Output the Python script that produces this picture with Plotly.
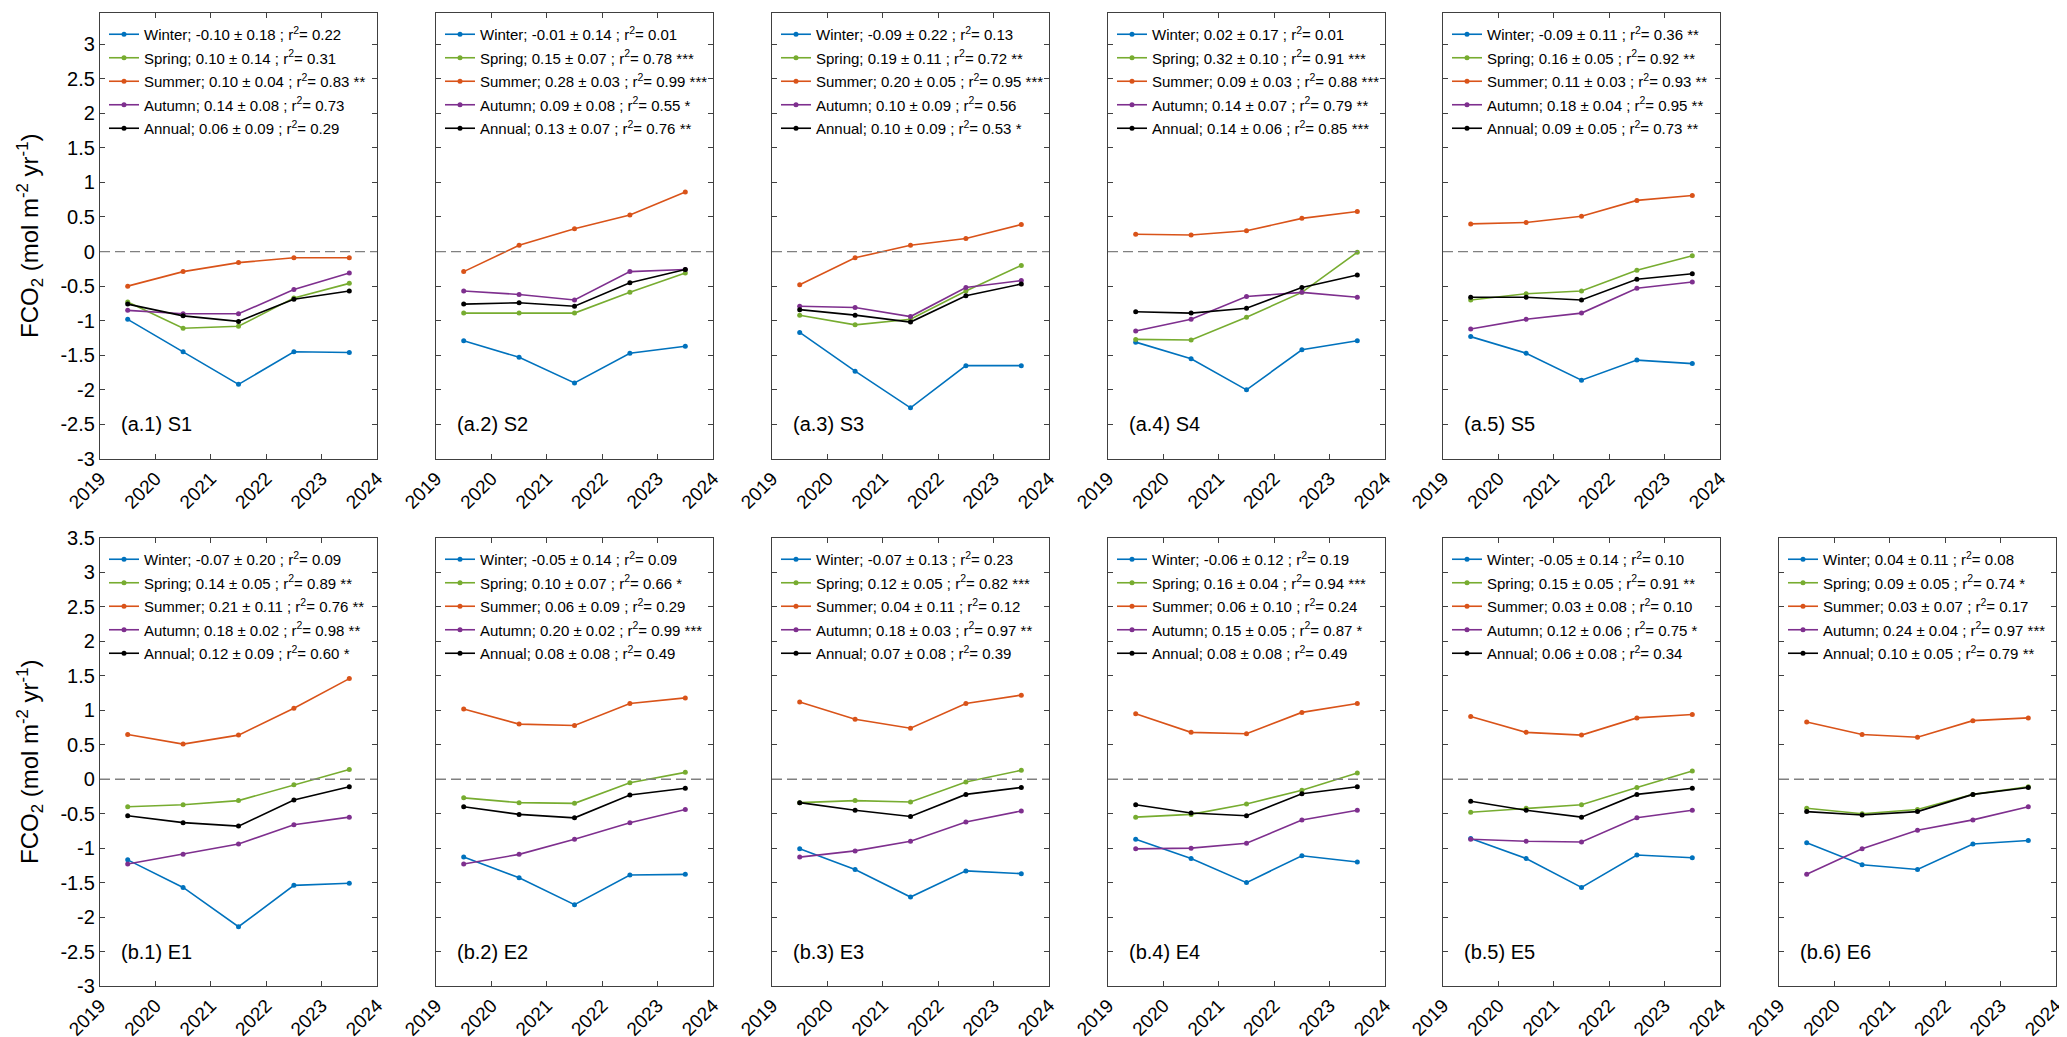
import plotly.graph_objects as go
from plotly.subplots import make_subplots

# Mid-year positions of the five yearly values
YEARS = [2019.5, 2020.5, 2021.5, 2022.5, 2023.5]

PANELS = ["(a.1) S1", "(a.2) S2", "(a.3) S3", "(a.4) S4", "(a.5) S5",
          "(b.1) E1", "(b.2) E2", "(b.3) E3", "(b.4) E4", "(b.5) E5", "(b.6) E6"]

SEASONS = ["Winter", "Spring", "Summer", "Autumn", "Annual"]

# FCO2 values per panel (rows follow PANELS)
WINTER = [
    [-0.98, -1.45, -1.92, -1.45, -1.46],
    [-1.29, -1.53, -1.90, -1.47, -1.37],
    [-1.17, -1.73, -2.26, -1.65, -1.65],
    [-1.31, -1.55, -2.00, -1.42, -1.29],
    [-1.23, -1.47, -1.86, -1.57, -1.62],
    [-1.17, -1.57, -2.14, -1.54, -1.51],
    [-1.13, -1.43, -1.82, -1.39, -1.38],
    [-1.01, -1.31, -1.71, -1.33, -1.37],
    [-0.87, -1.15, -1.50, -1.11, -1.20],
    [-0.86, -1.15, -1.57, -1.10, -1.14],
    [-0.92, -1.24, -1.31, -0.94, -0.89],
]
SPRING = [
    [-0.73, -1.11, -1.08, -0.67, -0.46],
    [-0.89, -0.89, -0.89, -0.59, -0.31],
    [-0.92, -1.06, -0.98, -0.57, -0.20],
    [-1.27, -1.28, -0.95, -0.59, -0.01],
    [-0.70, -0.61, -0.57, -0.27, -0.06],
    [-0.40, -0.37, -0.31, -0.08, 0.14],
    [-0.27, -0.34, -0.35, -0.05, 0.10],
    [-0.34, -0.31, -0.33, -0.04, 0.13],
    [-0.55, -0.51, -0.36, -0.16, 0.09],
    [-0.48, -0.42, -0.37, -0.12, 0.12],
    [-0.42, -0.50, -0.44, -0.22, -0.11],
]
SUMMER = [
    [-0.50, -0.29, -0.16, -0.09, -0.09],
    [-0.29, 0.09, 0.33, 0.53, 0.86],
    [-0.48, -0.09, 0.09, 0.19, 0.39],
    [0.25, 0.24, 0.30, 0.48, 0.58],
    [0.40, 0.42, 0.51, 0.74, 0.81],
    [0.65, 0.51, 0.64, 1.03, 1.46],
    [1.02, 0.80, 0.78, 1.10, 1.18],
    [1.12, 0.87, 0.74, 1.10, 1.22],
    [0.95, 0.68, 0.66, 0.97, 1.10],
    [0.91, 0.68, 0.64, 0.89, 0.94],
    [0.83, 0.65, 0.61, 0.85, 0.89],
]
AUTUMN = [
    [-0.85, -0.90, -0.90, -0.55, -0.31],
    [-0.57, -0.62, -0.70, -0.29, -0.26],
    [-0.79, -0.81, -0.94, -0.52, -0.42],
    [-1.15, -0.98, -0.65, -0.59, -0.66],
    [-1.12, -0.98, -0.89, -0.53, -0.44],
    [-1.23, -1.09, -0.94, -0.66, -0.55],
    [-1.23, -1.09, -0.87, -0.63, -0.44],
    [-1.13, -1.04, -0.90, -0.62, -0.46],
    [-1.01, -1.00, -0.93, -0.59, -0.45],
    [-0.87, -0.90, -0.91, -0.56, -0.45],
    [-1.38, -1.01, -0.74, -0.59, -0.40],
]
ANNUAL = [
    [-0.76, -0.93, -1.01, -0.69, -0.57],
    [-0.76, -0.74, -0.79, -0.45, -0.26],
    [-0.84, -0.92, -1.02, -0.64, -0.47],
    [-0.87, -0.89, -0.82, -0.52, -0.34],
    [-0.66, -0.66, -0.70, -0.40, -0.32],
    [-0.53, -0.63, -0.68, -0.30, -0.11],
    [-0.40, -0.51, -0.56, -0.23, -0.13],
    [-0.34, -0.45, -0.54, -0.22, -0.12],
    [-0.37, -0.49, -0.53, -0.21, -0.11],
    [-0.32, -0.45, -0.55, -0.22, -0.13],
    [-0.47, -0.52, -0.47, -0.22, -0.12],
]

# Trend statistics shown in legends: (slope, sd, r2, significance)
WINTER_FIT = [("-0.10", "0.18", "0.22", ""), ("-0.01", "0.14", "0.01", ""),
              ("-0.09", "0.22", "0.13", ""), ("0.02", "0.17", "0.01", ""),
              ("-0.09", "0.11", "0.36", "**"), ("-0.07", "0.20", "0.09", ""),
              ("-0.05", "0.14", "0.09", ""), ("-0.07", "0.13", "0.23", ""),
              ("-0.06", "0.12", "0.19", ""), ("-0.05", "0.14", "0.10", ""),
              ("0.04", "0.11", "0.08", "")]
SPRING_FIT = [("0.10", "0.14", "0.31", ""), ("0.15", "0.07", "0.78", "***"),
              ("0.19", "0.11", "0.72", "**"), ("0.32", "0.10", "0.91", "***"),
              ("0.16", "0.05", "0.92", "**"), ("0.14", "0.05", "0.89", "**"),
              ("0.10", "0.07", "0.66", "*"), ("0.12", "0.05", "0.82", "***"),
              ("0.16", "0.04", "0.94", "***"), ("0.15", "0.05", "0.91", "**"),
              ("0.09", "0.05", "0.74", "*")]
SUMMER_FIT = [("0.10", "0.04", "0.83", "**"), ("0.28", "0.03", "0.99", "***"),
              ("0.20", "0.05", "0.95", "***"), ("0.09", "0.03", "0.88", "***"),
              ("0.11", "0.03", "0.93", "**"), ("0.21", "0.11", "0.76", "**"),
              ("0.06", "0.09", "0.29", ""), ("0.04", "0.11", "0.12", ""),
              ("0.06", "0.10", "0.24", ""), ("0.03", "0.08", "0.10", ""),
              ("0.03", "0.07", "0.17", "")]
AUTUMN_FIT = [("0.14", "0.08", "0.73", ""), ("0.09", "0.08", "0.55", "*"),
              ("0.10", "0.09", "0.56", ""), ("0.14", "0.07", "0.79", "**"),
              ("0.18", "0.04", "0.95", "**"), ("0.18", "0.02", "0.98", "**"),
              ("0.20", "0.02", "0.99", "***"), ("0.18", "0.03", "0.97", "**"),
              ("0.15", "0.05", "0.87", "*"), ("0.12", "0.06", "0.75", "*"),
              ("0.24", "0.04", "0.97", "***")]
ANNUAL_FIT = [("0.06", "0.09", "0.29", ""), ("0.13", "0.07", "0.76", "**"),
              ("0.10", "0.09", "0.53", "*"), ("0.14", "0.06", "0.85", "***"),
              ("0.09", "0.05", "0.73", "**"), ("0.12", "0.09", "0.60", "*"),
              ("0.08", "0.08", "0.49", ""), ("0.07", "0.08", "0.39", ""),
              ("0.08", "0.08", "0.49", ""), ("0.06", "0.08", "0.34", ""),
              ("0.10", "0.05", "0.79", "**")]

COLORS = ["#0072BD", "#77AC30", "#D95319", "#7E2F8E", "#000000"]
FONT = "Arial, Liberation Sans, sans-serif"

W, H = 2067, 1037
PANEL_LEFT = [92, 428, 764, 1100, 1435, 92, 428, 764, 1100, 1435, 1771]
PANEL_W = 277
ROW_BOX = [(5, 451), (530, 978)]  # top/bottom pixel of each row


def panel_pos(i):
    """Row/col in the subplot grid and the pixel box of panel i."""
    if i < 5:
        return 1, i + 1, ROW_BOX[0]
    return 2, i - 4, ROW_BOX[1]


fig = make_subplots(
    rows=2,
    cols=6,
    specs=[[{}, {}, {}, {}, {}, None], [{}, {}, {}, {}, {}, {}]],
)

series = [WINTER, SPRING, SUMMER, AUTUMN, ANNUAL]
fits = [WINTER_FIT, SPRING_FIT, SUMMER_FIT, AUTUMN_FIT, ANNUAL_FIT]

for i, panel in enumerate(PANELS):
    row, col, (top, bottom) = panel_pos(i)
    leg = "legend" if i == 0 else "legend%d" % (i + 1)

    for k, season in enumerate(SEASONS):
        slope, sd, r2, sig = fits[k][i]
        name = "%s; %s ± %s ; r<sup>2</sup>= %s" % (season, slope, sd, r2)
        if sig:
            name += " " + sig
        fig.add_trace(
            go.Scatter(
                x=YEARS,
                y=series[k][i],
                mode="lines+markers",
                name=name,
                line=dict(color=COLORS[k], width=1.6),
                marker=dict(color=COLORS[k], size=5),
                legend=leg,
                legendgroup="%d_%d" % (i, k),
            ),
            row=row,
            col=col,
        )

    fig.add_hline(y=0, line=dict(color="#808080", width=1.3, dash="10px,5px"),
                  row=row, col=col)

    left = PANEL_LEFT[i]
    fig.update_xaxes(domain=[left / W, (left + PANEL_W) / W], row=row, col=col)
    fig.update_yaxes(domain=[1 - bottom / H, 1 - top / H], row=row, col=col)

    top_val = 3.45 if row == 1 else 3.5
    yticks = [v / 2 for v in range(-6, int(top_val * 2) + 1)]
    fig.update_yaxes(
        range=[-3, top_val],
        tickvals=yticks,
        ticktext=[("%g" % v) if col == 1 else "" for v in yticks],
        row=row,
        col=col,
    )

    fig.add_annotation(
        text=panel,
        x=0.07,
        xref="x domain" if i == 0 else "x%d domain" % (i + 1),
        y=-2.5,
        yref="y" if i == 0 else "y%d" % (i + 1),
        xanchor="left",
        yanchor="middle",
        showarrow=False,
        font=dict(family=FONT, size=20, color="#000000"),
    )

    fig.update_layout(
        {
            leg: dict(
                x=(left + 4) / W,
                y=1 - (top + 5) / H,
                xanchor="left",
                yanchor="top",
                bgcolor="rgba(0,0,0,0)",
                borderwidth=0,
                tracegroupgap=1,
                traceorder="grouped",
                font=dict(family=FONT, size=15, color="#000000"),
                itemwidth=30,
            )
        }
    )

    # y-axis title only on the first panel of each row
    if col == 1:
        fig.add_annotation(
            text="FCO<sub>2</sub> (mol m<sup>-2</sup> yr<sup>-1</sup>)",
            x=22 / W,
            xref="paper",
            y=1 - (top + bottom) / 2 / H,
            yref="paper",
            xanchor="center",
            yanchor="middle",
            textangle=-90,
            showarrow=False,
            font=dict(family=FONT, size=24, color="#000000"),
        )

fig.update_xaxes(
    range=[2019, 2024],
    tickvals=[2019, 2020, 2021, 2022, 2023, 2024],
    ticktext=["2019", "2020", "2021", "2022", "2023", "2024"],
    tickangle=-45,
    ticks="inside",
    ticklen=5,
    tickcolor="#404040",
    showline=True,
    linecolor="#404040",
    linewidth=1.2,
    mirror="ticks",
    showgrid=False,
    zeroline=False,
    automargin=False,
    tickfont=dict(family=FONT, size=19, color="#000000"),
)
fig.update_yaxes(
    ticks="inside",
    ticklen=5,
    tickcolor="#404040",
    showline=True,
    linecolor="#404040",
    linewidth=1.2,
    mirror="ticks",
    showgrid=False,
    zeroline=False,
    automargin=False,
    tickfont=dict(family=FONT, size=20, color="#000000"),
)

fig.update_layout(
    template="none",
    width=W,
    height=H,
    margin=dict(l=0, r=0, t=0, b=0),
    paper_bgcolor="white",
    plot_bgcolor="white",
    showlegend=True,
    font=dict(family=FONT, color="#000000"),
)

fig.write_html("out.html")
